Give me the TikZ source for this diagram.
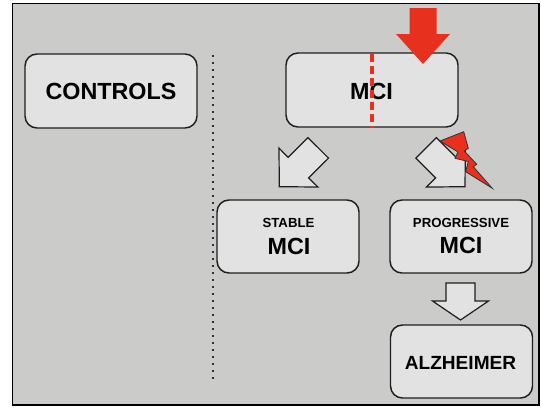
\documentclass[tikz,border=0pt]{standalone}
\usepackage{fontspec}
\setmainfont{Liberation Sans}
\definecolor{panel}{RGB}{203,203,202}
\definecolor{boxfill}{RGB}{226,226,226}
\definecolor{boxline}{RGB}{30,30,30}
\definecolor{alarm}{RGB}{232,48,30}
\definecolor{dotgray}{RGB}{50,50,50}
\begin{document}
\begin{tikzpicture}[x=0.75pt,y=-0.75pt,
  wide/.style={draw=boxline, line width=1.1pt, fill=boxfill, rounded corners=9pt,
    inner sep=0pt, minimum width=129pt, minimum height=55.5pt},
  narrow/.style={draw=boxline, line width=1.1pt, fill=boxfill, rounded corners=9pt,
    inner sep=0pt, minimum width=106.5pt, minimum height=54.75pt},
  bigtxt/.style={inner sep=0pt, font=\bfseries\fontsize{17.5}{20}\selectfont, text=black},
  smalltxt/.style={inner sep=0pt, font=\bfseries\fontsize{9.9}{12}\selectfont, text=black},
  alztxt/.style={inner sep=0pt, font=\bfseries\fontsize{14.3}{17}\selectfont, text=black},
  blockarrow/.style={draw=boxline, line width=0.9pt, fill=boxfill, line join=miter},
]
\useasboundingbox (0,0) rectangle (541,407);
% panel
\draw[fill=panel, line width=1.2pt] (12.5,3.5) rectangle (539,405);

% dotted separator
\draw[dotgray, line width=1.7pt, dash pattern=on 1.6pt off 3.65pt] (213,55) -- (213,382);

% boxes
\node[wide] (controls) at (111,91) {};
\node[bigtxt] (controlsT) at (111,91.5) {CONTROLS};

\node[wide] (mci) at (372,90) {};
\node[bigtxt] (mciT) at (371.5,91) {MCI};

\node[narrow] (stable) at (288,236.5) {};
\node[smalltxt] (stableT1) at (288.5,222.5) {STABLE};
\node[bigtxt] (stableT2) at (289,246) {MCI};

\node[narrow] (prog) at (461,236.5) {};
\node[smalltxt] (progT1) at (461,223) {PROGRESSIVE};
\node[bigtxt] (progT2) at (461,245.5) {MCI};

\node[narrow] (alz) at (461.5,361.5) {};
\node[alztxt] (alzT) at (460.5,362.5) {ALZHEIMER};

% red dashed cut through MCI
\draw[alarm, line width=2.3pt, dash pattern=on 6pt off 3pt] ([yshift=-1.5pt]mci.north) -- (mci.south);

% red input arrow
\fill[alarm] (409.5,8) -- (436.5,8) -- (436.5,34) -- (450,34) -- (423,64)
  -- (396,34) -- (409.5,34) -- cycle;

% diagonal arrow to stable MCI
\draw[blockarrow] (279.3,186.7) -- (317.9,187.0) -- (308.6,177.9) -- (328.5,158.1)
  -- (307.9,137.6) -- (288.1,157.4) -- (279.0,148.1) -- cycle;

% diagonal arrow to progressive MCI
\draw[blockarrow] (465,186.7) -- (426.45,187.05) -- (435.65,177.85) -- (415.85,158.05)
  -- (436.35,137.55) -- (456.15,157.35) -- (465.35,148.15) -- cycle;

% lightning bolt
\draw[fill=alarm, draw=black!80, line width=0.6pt, line join=miter]
  (440,141) -- (463.7,131.7) -- (468.3,148.3) -- (464.3,151) -- (476.7,164.3)
  -- (473.3,166.7) -- (492.3,188.3) -- (465.7,171.7) -- (468.3,161.5)
  -- (455,158.3) -- (458,152) -- cycle;

% arrow to Alzheimer
\draw[blockarrow] (446,283) -- (475,283) -- (475,301) -- (488.5,301) -- (460.5,320)
  -- (432.5,301) -- (446,301) -- cycle;
\end{tikzpicture}
\end{document}
